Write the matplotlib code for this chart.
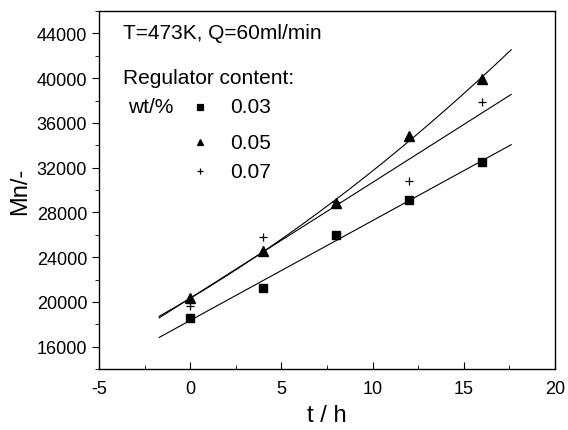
import numpy as np
import matplotlib
matplotlib.use("Agg")
import matplotlib.pyplot as plt
from matplotlib.ticker import MultipleLocator

plt.rcParams['font.family'] = ['Liberation Sans', 'DejaVu Sans']
plt.rcParams['axes.unicode_minus'] = False

t = [0, 4, 8, 12, 16]
mn_003 = [18600, 21200, 26000, 29100, 32500]
mn_005 = [20350, 24550, 28800, 34800, 39950]
mn_007 = [19650, 25800, 28950, 30800, 37850]
labels = ["0.03", "0.05", "0.07"]

fig = plt.figure(figsize=(5.68, 4.31), dpi=100)
ax = fig.add_axes([99/568, 1-370/431, 456/568, 358/431])

tt = np.linspace(-1.7, 17.6, 200)
for ys, deg in [(mn_003, 1), (mn_005, 2), (mn_007, 1)]:
    p = np.polyfit(t, ys, deg)
    ax.plot(tt, np.polyval(p, tt), color='black', lw=0.8)

ax.plot(t, mn_003, 's', color='black', ms=5.5, ls='none')
ax.plot(t, mn_005, '^', color='black', ms=6.5, ls='none')
ax.plot(t, mn_007, '+', color='black', ms=5.5, mew=0.9, ls='none')

ax.set_xlim(-5, 20)
ax.set_ylim(14000, 46000)
ax.xaxis.set_major_locator(MultipleLocator(5))
ax.xaxis.set_minor_locator(MultipleLocator(2.5))
ax.yaxis.set_major_locator(MultipleLocator(4000))
ax.yaxis.set_minor_locator(MultipleLocator(2000))
ax.tick_params(axis='x', which='both', direction='in', labelsize=13, pad=8)
ax.tick_params(axis='x', which='major', length=5)
ax.tick_params(axis='x', which='minor', length=3)
ax.tick_params(axis='y', which='both', direction='out', labelsize=13)
ax.tick_params(axis='y', which='major', length=5)
ax.tick_params(axis='y', which='minor', length=3)
for s in ax.spines.values():
    s.set_linewidth(1.0)

ax.set_xlabel("t / h", fontsize=17, labelpad=5)
ax.set_ylabel("Mn/-", fontsize=17, labelpad=4)

tr = ax.transAxes
fs = 15
ax.text(0.053, 0.939, "T=473K, Q=60ml/min", transform=tr, fontsize=fs, va='center')
ax.text(0.053, 0.813, "Regulator content:", transform=tr, fontsize=fs, va='center')
ax.text(0.064, 0.732, "wt/%", transform=tr, fontsize=fs, va='center')
rows_y = [0.732, 0.634, 0.553]
marks = [('s', 4.5), ('^', 5), ('+', 4.5)]
for yy, (m, ms), lab in zip(rows_y, marks, labels):
    ax.plot([0.222], [yy], m, color='black', ms=ms, mew=0.9, transform=tr, clip_on=False)
    ax.text(0.287, yy, lab, transform=tr, fontsize=fs, va='center')

fig.savefig("out.png", dpi=100)
